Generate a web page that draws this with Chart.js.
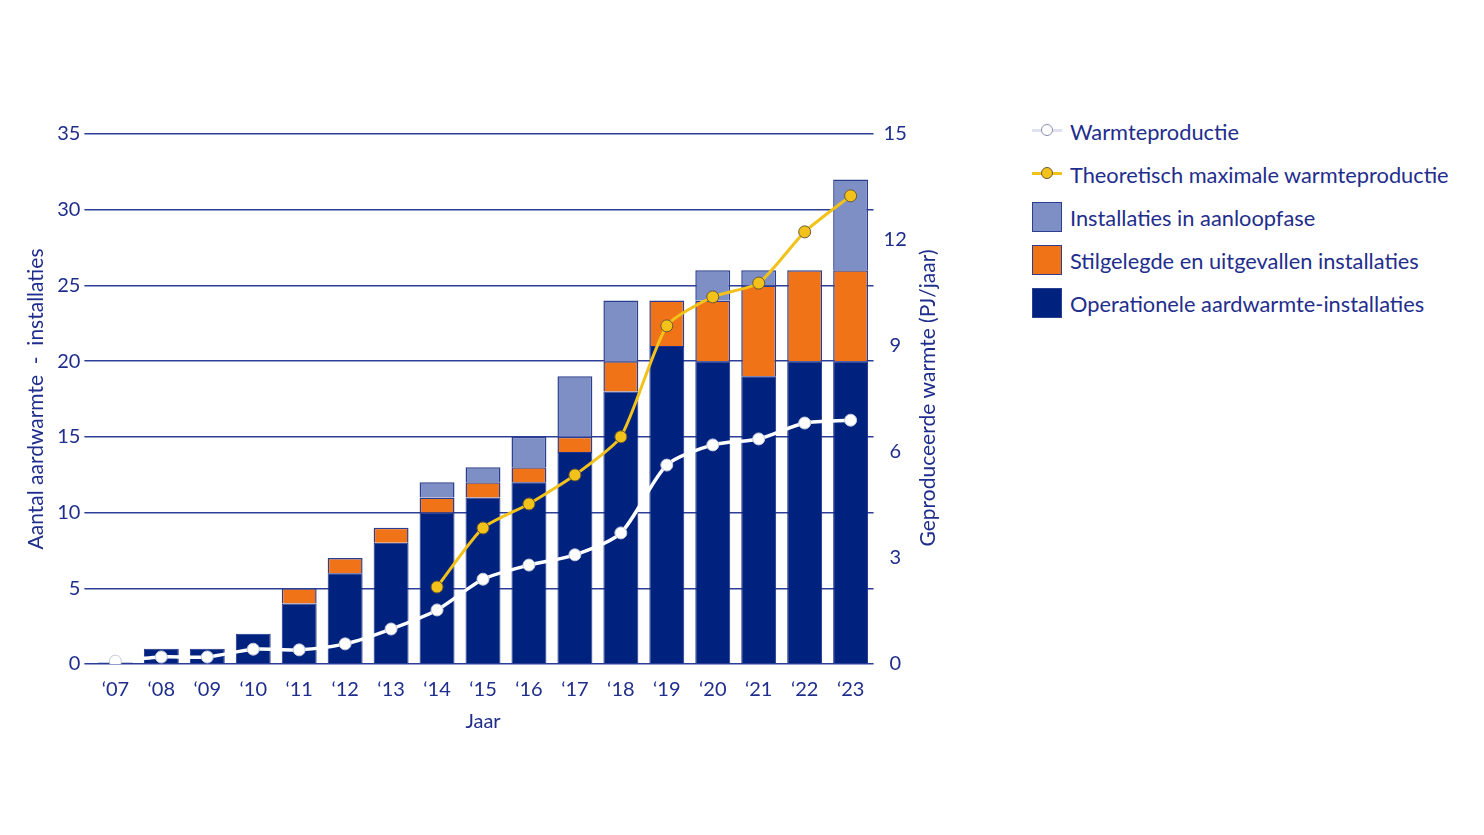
<!DOCTYPE html>
<html>
<head>
<meta charset="utf-8">
<script src="https://cdn.jsdelivr.net/npm/chart.js@4.4.0/dist/chart.umd.min.js"></script>
<style>
  html, body { margin: 0; padding: 0; background: #fff; }
  body { width: 1484px; height: 835px; position: relative; overflow: hidden; font-family: Lato, "Noto Sans", sans-serif; }
  #wrap { position: absolute; left: 0; top: 0; width: 944px; height: 760px; }
  #legend { position: absolute; left: 1032px; top: 116px; color: #1f2e8c; font-size: 21.8px; }
  .item { display: flex; align-items: center; height: 30px; margin-bottom: 13px; white-space: nowrap; }
  .icon { width: 30px; height: 30px; margin-right: 8px; position: relative; box-sizing: border-box; flex: none; }
  .line { position: absolute; left: 0; right: 0; top: 13px; height: 3px; }
  .dot { position: absolute; left: 9px; top: 8px; width: 12px; height: 12px; border-radius: 50%; box-sizing: border-box; }
  .box { border: 1.5px solid #2c3e8f; }
</style>
</head>
<body>
<div id="wrap"><canvas id="chart"></canvas></div>
<div id="legend"></div>
<script>
// Jaren en waarden
const years = ["\u201807", "\u201808", "\u201809", "\u201810", "\u201811", "\u201812", "\u201813", "\u201814", "\u201815",
               "\u201816", "\u201817", "\u201818", "\u201819", "\u201820", "\u201821", "\u201822", "\u201823"];
const operationeel = [0.1, 1, 1, 2, 4, 6, 8, 10, 11, 12, 14, 18, 21, 20, 19, 20, 20];
const stilgelegd   = [0, 0, 0, 0, 1, 1, 1, 1, 1, 1, 1, 2, 3, 4, 6, 6, 6];
const aanloop      = [0, 0, 0, 0, 0, 0, 0, 1, 1, 2, 4, 4, 0, 2, 1, 0, 6];
const warmteproductie = [0.08, 0.2, 0.2, 0.42, 0.4, 0.57, 0.99, 1.53, 2.4, 2.8, 3.09, 3.71, 5.63, 6.2, 6.37, 6.82, 6.9];
const theoretisch = [null, null, null, null, null, null, null, 2.18, 3.85, 4.53, 5.35, 6.43, 9.57, 10.39, 10.78, 12.23, 13.25];

const textColor = "#1f2e8c";
const gridColor = "#2c3e96";
const navy = "#00227f";
const orange = "#f07318";
const lightBlue = "#7d8fc4";
const yellow = "#f2c21b";
const font = { family: "Lato, 'Noto Sans', sans-serif", size: 20 };
const titleFont = { family: "Lato, 'Noto Sans', sans-serif", size: 21 };
const rightTitle = "Geproduceerde warmte (PJ/jaar)";

const datasets = [
  {
    type: "line", label: "Warmteproductie", data: warmteproductie, yAxisID: "y1", order: 1,
    borderColor: "#ffffff", borderWidth: 3.5, tension: 0.25,
    pointRadius: 6, pointBackgroundColor: "#ffffff", pointBorderColor: "#c3c8dc", pointBorderWidth: 1
  },
  {
    type: "line", label: "Theoretisch maximale warmteproductie", data: theoretisch, yAxisID: "y1", order: 0,
    borderColor: yellow, borderWidth: 3, tension: 0.2, spanGaps: false,
    pointRadius: 6, pointBackgroundColor: yellow, pointBorderColor: "#6b5a30", pointBorderWidth: 1
  },
  {
    type: "bar", label: "Operationele aardwarmte-installaties", data: operationeel, yAxisID: "y", order: 2,
    backgroundColor: navy, borderColor: "#1d2f8a", borderWidth: 1, stack: "s"
  },
  {
    type: "bar", label: "Stilgelegde en uitgevallen installaties", data: stilgelegd, yAxisID: "y", order: 2,
    backgroundColor: orange, borderColor: "#2c3e8f", borderWidth: 1.5, stack: "s"
  },
  {
    type: "bar", label: "Installaties in aanloopfase", data: aanloop, yAxisID: "y", order: 2,
    backgroundColor: lightBlue, borderColor: "#2c3e8f", borderWidth: 1.5, stack: "s"
  }
];

// rechter astitel van onder naar boven, zoals in de figuur
const rightTitlePlugin = {
  id: "rightTitle",
  afterDraw(chart) {
    const area = chart.chartArea;
    const ctx = chart.ctx;
    ctx.save();
    ctx.translate(area.right + 55, (area.top + area.bottom) / 2 - 1);
    ctx.rotate(-Math.PI / 2);
    ctx.fillStyle = textColor;
    ctx.font = `${titleFont.size}px ${titleFont.family}`;
    ctx.textAlign = "center";
    ctx.textBaseline = "middle";
    ctx.fillText(rightTitle, 0, 0);
    ctx.restore();
  }
};

new Chart(document.getElementById("chart"), {
  data: { labels: years, datasets: datasets },
  plugins: [rightTitlePlugin],
  options: {
    responsive: true,
    maintainAspectRatio: false,
    animation: false,
    datasets: { bar: { barPercentage: 0.76, categoryPercentage: 1 } },
    layout: { padding: { left: 20, right: 2, top: 134, bottom: 22 } },
    plugins: { legend: { display: false }, tooltip: { enabled: false } },
    scales: {
      x: {
        stacked: true,
        grid: { display: false },
        border: { display: false },
        ticks: { color: textColor, font: font, padding: 6 },
        title: { display: true, text: "Jaar", color: textColor, font: font, padding: { top: 2 } }
      },
      y: {
        stacked: true, position: "left", min: 0, max: 35,
        ticks: { stepSize: 5, color: textColor, font: font, padding: 4 },
        grid: { color: gridColor, lineWidth: 1.5, tickLength: 8 },
        border: { display: false },
        title: { display: true, text: "Aantal aardwarmte  -  installaties", color: textColor, font: titleFont, padding: 4 }
      },
      y1: {
        position: "right", min: 0, max: 15,
        ticks: { stepSize: 3, color: textColor, font: font, padding: 2, crossAlign: "center" },
        grid: { display: false },
        border: { display: false },
        title: { display: true, text: rightTitle, color: "transparent", font: titleFont, padding: 4 }
      }
    }
  }
});

// Legenda als HTML, in de volgorde van de figuur
const legendItems = [
  { label: datasets[0].label, kind: "line", line: "#dfe2ee", dot: "#ffffff", dotBorder: "#8a90b0" },
  { label: datasets[1].label, kind: "line", line: yellow, dot: yellow, dotBorder: "#6b5a30" },
  { label: datasets[4].label, kind: "box", color: lightBlue },
  { label: datasets[3].label, kind: "box", color: orange },
  { label: datasets[2].label, kind: "box", color: navy }
];
const legendEl = document.getElementById("legend");
legendItems.forEach(it => {
  const row = document.createElement("div");
  row.className = "item";
  const icon = document.createElement("div");
  icon.className = "icon";
  if (it.kind === "line") {
    icon.innerHTML = `<div class="line" style="background:${it.line}"></div>` +
      `<div class="dot" style="background:${it.dot};border:1.5px solid ${it.dotBorder}"></div>`;
  } else {
    icon.classList.add("box");
    icon.style.background = it.color;
  }
  const text = document.createElement("span");
  text.textContent = it.label;
  row.appendChild(icon);
  row.appendChild(text);
  legendEl.appendChild(row);
});
</script>
</body>
</html>
